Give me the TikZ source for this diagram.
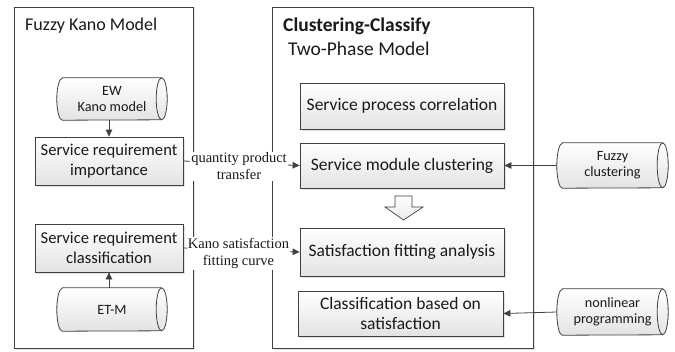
\documentclass[tikz,border=0pt]{standalone}
\usepackage{fontspec}
\setmainfont{Carlito}
\newfontfamily\serifL{Liberation Serif}
\usetikzlibrary{shadows,arrows.meta}
\definecolor{ln}{HTML}{404040}
\definecolor{tx}{HTML}{1A1A1A}
% #1 node name, #2 half height (pt)
\newcommand{\mycyl}[2]{%
  \draw[draw=ln, line width=0.8pt, top color=white, bottom color=black!11]
    ([xshift=5.5pt]#1.north west) -- ([xshift=-5.5pt]#1.north east)
    arc[start angle=90, end angle=-90, x radius=5.5pt, y radius=#2pt]
    -- ([xshift=5.5pt]#1.south west)
    arc[start angle=270, end angle=90, x radius=5.5pt, y radius=#2pt] -- cycle;
  \draw[draw=ln, line width=0.8pt] ([xshift=-5.5pt]#1.north east)
    arc[start angle=90, end angle=270, x radius=5.5pt, y radius=#2pt];
}
\begin{document}
\begin{tikzpicture}[x=1pt,y=-1pt,
  panel/.style={draw=ln, fill=white, line width=0.8pt, inner sep=0pt,
    drop shadow={shadow xshift=2pt, shadow yshift=-2pt, fill=gray!40}},
  box/.style={draw=ln, line width=0.8pt, top color=white, bottom color=black!11,
    inner sep=2pt, align=center, text=tx,
    drop shadow={shadow xshift=1.5pt, shadow yshift=-1.5pt, fill=gray!45}},
  lbox/.style={box, minimum width=148pt, minimum height=48pt, font=\fontsize{16.6}{20}\selectfont},
  rbox/.style={box, minimum width=204pt, minimum height=46pt, font=\fontsize{17.5}{20}\selectfont},
  cyl/.style={align=center, text=tx, inner sep=0pt,
    minimum width=110pt, minimum height=42pt,
    font=\fontsize{14.2}{16}\selectfont},
  conn/.style={draw=ln, line width=0.8pt, -{Triangle[length=7pt,width=6.5pt]}},
  lbl/.style={fill=white, inner sep=1pt, align=center, text=tx,
    font=\serifL\fontsize{14.5}{17}\selectfont}]
\useasboundingbox (0,0) rectangle (675,351);

% panels
\node[panel, anchor=north west, minimum width=179pt, minimum height=341pt] (lp) at (14,7) {};
\node[panel, anchor=north west, minimum width=261pt, minimum height=341pt] (rp) at (272,7) {};

% titles
\node[anchor=base west, inner sep=0pt, text=tx, font=\fontsize{18}{20}\selectfont] (t1) at (25,30) {Fuzzy Kano Model};
\node[anchor=base west, inner sep=0pt, text=tx, font=\bfseries\fontsize{19.5}{22}\selectfont] (t2) at (283,31) {Clustering-Classify};
\node[anchor=base west, inner sep=0pt, text=tx, font=\fontsize{19.5}{22}\selectfont] (t3) at (288,55) {Two-Phase Model};

% left boxes
\node[lbox] (imp) at (109,161) {Service requirement\\importance};
\node[lbox] (cls) at (109,248) {Service requirement\\classification};

% right boxes
\node[rbox] (spc) at (402,106) {Service process correlation};
\node[rbox, minimum height=45pt] (mcl) at (402,165.5) {Service module clustering};
\node[rbox, minimum height=48pt] (sfa) at (402,252) {Satisfaction fitting analysis};
\node[rbox, minimum width=205pt, minimum height=45pt] (cbs) at (400.5,313.5) {Classification based on\\satisfaction};

% cylinders (outline first, then text nodes)
\path node[cyl] (ew) at (112,99) {}
      node[cyl, minimum height=43pt] (etm) at (112,309.5) {}
      node[cyl, minimum width=111pt, minimum height=45pt] (fc) at (612.5,165.5) {}
      node[cyl, minimum width=111pt, minimum height=46pt] (nlp) at (612.5,312) {};
\mycyl{ew}{21}
\mycyl{etm}{21.5}
\mycyl{fc}{22.5}
\mycyl{nlp}{23}
\node[cyl, minimum width=0pt, minimum height=0pt] (ewt) at (ew) {EW\\Kano model};
\node[cyl, minimum width=0pt, minimum height=0pt] (etmt) at (etm) {ET-M};
\node[cyl, minimum width=0pt, minimum height=0pt] (fct) at (fc) {Fuzzy\\clustering};
\node[cyl, minimum width=0pt, minimum height=0pt] (nlpt) at (nlp) {nonlinear\\programming};

% hollow arrow
\draw[ln, line width=0.7pt, top color=white, bottom color=black!8]
  (395,196) -- (412,196) -- (412,207) -- (423,207) -- (403.5,220) -- (385,207) -- (395,207) -- cycle;

% connectors
\draw[conn] (ew.south -| imp.north) -- (imp.north);
\draw[conn] (etm.north -| cls.south) -- (cls.south);
\draw[conn] (imp.east) -- (mcl.west);
\draw[conn] (cls.east) -- (sfa.west);
\draw[conn] (fc.west) -- (mcl.east);
\draw[conn] (nlp.west) -- (cbs.east);

% labels
\node[lbl] (l1) at (239,166.5) {quantity product\\transfer};
\node[lbl] (l2) at (238.5,253.5) {Kano satisfaction\\fitting curve};
\end{tikzpicture}
\end{document}
